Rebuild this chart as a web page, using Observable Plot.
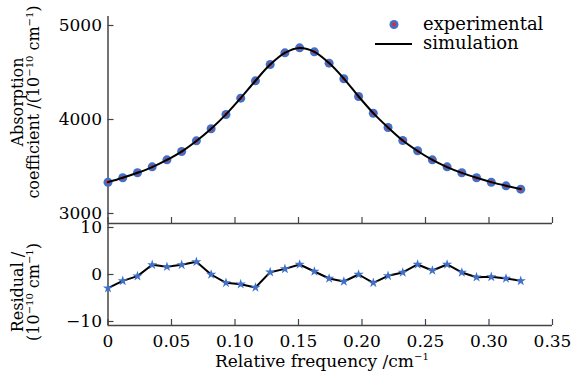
<!DOCTYPE html>
<html><head><meta charset="utf-8">
<script src="https://cdn.jsdelivr.net/npm/d3@7"></script>
<script src="https://cdn.jsdelivr.net/npm/@observablehq/plot@0.6"></script>
<style>
body{margin:0;background:#fff;}
#chart{position:relative;width:574px;height:374px;font-family:"DejaVu Serif";}
#chart > svg{position:absolute;left:0;background:transparent;}
</style></head><body><div id="chart"></div>
<script>
const frequency=[0,0.0116,0.0232,0.0348,0.0464,0.0580,0.0696,0.0812,0.0929,0.1045,0.1161,0.1277,0.1393,0.1509,0.1625,0.1741,0.1857,0.1973,0.2089,0.2205,0.2321,0.2438,0.2554,0.2670,0.2786,0.2902,0.3018,0.3134,0.3250];
const absorption=[3333,3380,3433,3496,3571,3660,3773,3901,4053,4227,4411,4585,4709,4762,4720,4599,4433,4245,4067,3915,3777,3667,3571,3496,3433,3380,3333,3294,3259];
const simulation=[3334,3381,3433,3494,3570,3659,3771,3901,4054,4228,4412,4584,4708,4760,4720,4600,4435,4245,4068,3915,3776,3665,3570,3494,3432,3380,3334,3295,3260];
const residual=[-2.9,-1.35,-0.35,2.06,1.64,2.06,2.7,0,-1.77,-2.06,-2.77,0.5,1.2,2.13,0.64,-0.85,-1.49,0,-1.77,-0.28,0.43,2.13,0.85,2.13,0.43,-0.57,-0.5,-0.85,-1.35];
const xTicks=[0,0.05,0.1,0.15,0.2,0.25,0.3,0.35];
const xTickLabels=["0","0.05","0.10","0.15","0.20","0.25","0.30","0.35"];
const absTicks=[3000,4000,5000];
const resTicks=[-10,0,10];
const resTickLabels=["\u221210","0","10"];

const blue="#4170c8", red="#e8262d", axisColor="#444";
const expData=frequency.map((f,i)=>({f, v:absorption[i]}));
const simData=frequency.map((f,i)=>({f, v:simulation[i]}));
const resData=frequency.map((f,i)=>({f, v:residual[i]}));

const root=document.getElementById("chart");
const plotStyle={fontFamily:"DejaVu Serif",fontSize:"17px",background:"transparent",overflow:"visible",color:"#000"};
const absDomain=[2893.6,5095.7];
const resDomain=[-10.85,10.85];

const topPlot=Plot.plot({
  width:574,height:226,marginTop:16,marginBottom:3,marginLeft:107.5,marginRight:22,
  style:plotStyle,
  x:{domain:[0,0.35]},
  y:{domain:absDomain},
  marks:[
    Plot.ruleX([0],{stroke:axisColor,strokeWidth:1.5}),
    Plot.ruleY([absDomain[0]],{stroke:axisColor,strokeWidth:1.5}),
    Plot.axisX({ticks:xTicks,tickSize:-6,tickFormat:()=>"",label:null,stroke:axisColor,strokeWidth:1.2}),
    Plot.axisY({ticks:absTicks,tickSize:-6,tickFormat:()=>"",label:null,stroke:axisColor,strokeWidth:1.2}),
    Plot.axisY({ticks:absTicks,tickSize:0,tickPadding:6,tickFormat:d=>String(d),label:null,fill:"#000",fontSize:17}),
    Plot.dot(expData,{x:"f",y:"v",r:4.5,fill:blue,stroke:"none"}),
    Plot.dot(expData,{x:"f",y:"v",r:1.9,fill:red,stroke:"none"}),
    Plot.line(simData,{x:"f",y:"v",stroke:"#000",strokeWidth:2,curve:"catmull-rom"})
  ]
});
topPlot.style.top="0px";
root.appendChild(topPlot);

const bottomPlot=Plot.plot({
  width:574,height:154,marginTop:3,marginBottom:49,marginLeft:107.5,marginRight:22,
  style:plotStyle,
  x:{domain:[0,0.35]},
  y:{domain:resDomain},
  marks:[
    Plot.ruleX([0],{stroke:axisColor,strokeWidth:1.5}),
    Plot.ruleY([resDomain[0]],{stroke:axisColor,strokeWidth:1.5}),
    Plot.axisX({ticks:xTicks,tickSize:-6,tickFormat:()=>"",label:null,stroke:axisColor,strokeWidth:1.2}),
    Plot.axisX({ticks:xTicks,tickSize:0,tickPadding:9,tickFormat:d=>xTickLabels[xTicks.indexOf(d)],label:null,fill:"#000",fontSize:17}),
    Plot.axisY({ticks:resTicks,tickSize:-6,tickFormat:()=>"",label:null,stroke:axisColor,strokeWidth:1.2}),
    Plot.axisY({ticks:resTicks,tickSize:0,tickPadding:6,tickFormat:d=>resTickLabels[resTicks.indexOf(d)],label:null,fill:"#000",fontSize:17}),
    Plot.line(resData,{x:"f",y:"v",stroke:"#000",strokeWidth:2}),
    Plot.dot(resData,{x:"f",y:"v",symbol:"star",r:3.2,fill:blue,stroke:"none"})
  ]
});
bottomPlot.style.top="220px";
root.appendChild(bottomPlot);

// overlay: axis titles and legend
const ov=d3.select(root).append("svg").attr("width",574).attr("height",374)
  .style("top","0px").style("font-family","DejaVu Serif").style("pointer-events","none");

function richText(sel, parts, supSize, shift){
  parts.forEach((p,i)=>{
    const ts=sel.append("tspan").text(p.t);
    if(p.sup) ts.attr("font-size",supSize).attr("dy",-shift);
    else if(i>0 && parts[i-1].sup) ts.attr("dy",shift);
  });
}
const xt=ov.append("text").attr("x",215).attr("y",367).attr("font-size",17);
richText(xt,[{t:"Relative frequency /cm"},{t:"\u22121",sup:true}],10,7);

function ylab(x,y,parts){
  const t=ov.append("text").attr("transform",`translate(${x},${y}) rotate(-90)`).attr("text-anchor","middle").attr("font-size",16);
  richText(t,parts,10,6);
}
ylab(23,102,[{t:"Absorption"}]);
ylab(39,102,[{t:"coefficient /(10"},{t:"\u221210",sup:true},{t:" cm"},{t:"\u22121",sup:true},{t:")"}]);
ylab(23,292,[{t:"Residual /"}]);
ylab(39,292,[{t:"(10"},{t:"\u221210",sup:true},{t:" cm"},{t:"\u22121",sup:true},{t:")"}]);

ov.append("circle").attr("cx",394).attr("cy",24.5).attr("r",4.5).attr("fill",blue);
ov.append("circle").attr("cx",394).attr("cy",24.5).attr("r",1.9).attr("fill",red);
ov.append("line").attr("x1",375).attr("x2",412).attr("y1",44).attr("y2",44).attr("stroke","#000").attr("stroke-width",2.2);
ov.append("text").attr("x",423).attr("y",29.5).attr("font-size",18).text("experimental");
ov.append("text").attr("x",423).attr("y",48.5).attr("font-size",18).text("simulation");
</script></body></html>
